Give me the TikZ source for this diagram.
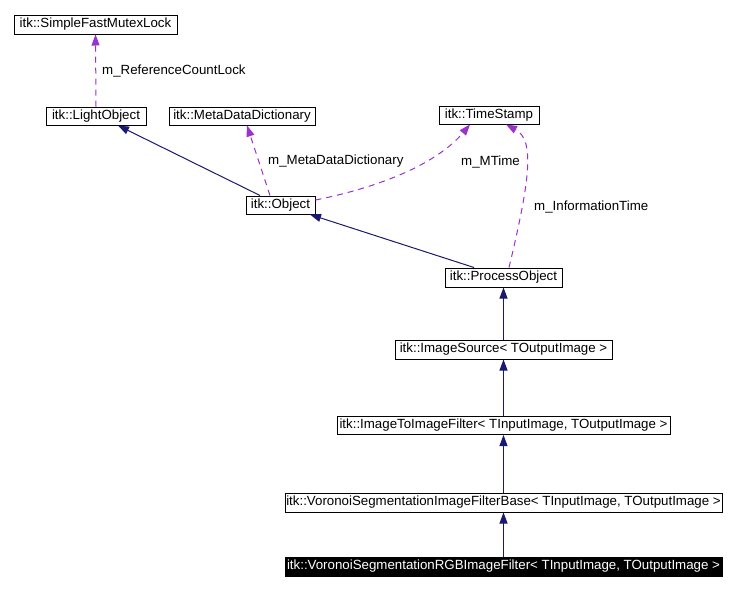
\documentclass[tikz,border=0pt]{standalone}
\usepackage{fontspec}
\setmainfont{Liberation Sans}
\usetikzlibrary{arrows.meta}
\definecolor{navyc}{HTML}{191970}
\definecolor{orchidc}{HTML}{9A32CD}
\begin{document}
\begin{tikzpicture}[x=1pt,y=-1pt,
  cls/.style={draw=black,line width=1pt,rectangle,inner sep=0pt,font=\fontsize{13.3}{15}\selectfont,fill=white},
  hl/.style={cls,fill=black,text=white},
  inh/.style={draw=navyc,line width=1pt,-{Triangle[length=11pt,width=8pt]}},
  use/.style={draw=orchidc,line width=1pt,dash pattern=on 6pt off 5pt,-{Triangle[length=11pt,width=8pt]}},
  lab/.style={font=\fontsize{13.3}{15}\selectfont,anchor=west,inner sep=0pt}]
\useasboundingbox[fill=white] (0,0) rectangle (736,590);
\node[cls,minimum width=163pt,minimum height=19pt] (sfml) at (95.5,24.5) {itk::SimpleFastMutexLock};
\node[cls,minimum width=100pt,minimum height=18pt] (lo) at (96,116) {itk::LightObject};
\node[cls,minimum width=146pt,minimum height=18pt] (mdd) at (242,116) {itk::MetaDataDictionary};
\node[cls,minimum width=69pt,minimum height=18pt] (obj) at (280.5,205) {itk::Object};
\node[cls,minimum width=100pt,minimum height=18pt] (ts) at (489,115) {itk::TimeStamp};
\node[cls,minimum width=117pt,minimum height=19pt] (po) at (503.5,277.5) {itk::ProcessObject};
\node[cls,minimum width=217pt,minimum height=19pt] (is) at (503.5,349.5) {itk::ImageSource< TOutputImage >};
\node[cls,minimum width=333pt,minimum height=18pt] (itif) at (503.5,425.5) {itk::ImageToImageFilter< TInputImage, TOutputImage >};
\node[cls,minimum width=437pt,minimum height=19pt] (vb) at (503.5,502.5) {itk::VoronoiSegmentationImageFilterBase< TInputImage, TOutputImage >};
\node[hl,minimum width=437pt,minimum height=19pt] (rgb) at (503.5,566.5) {itk::VoronoiSegmentationRGBImageFilter< TInputImage, TOutputImage >};

\draw[use] (lo.north) -- (sfml.south);
\node[lab] (l1) at (102,71) {m\_ReferenceCountLock};
\draw[inh] ([xshift=-20.5pt]obj.north) -- ([xshift=22pt]lo.south);
\draw[use] ([xshift=-10.5pt]obj.north) -- ([xshift=5pt]mdd.south);
\node[lab] (l2) at (268,161) {m\_MetaDataDictionary};
\draw[use] ([yshift=5pt]obj.east) .. controls (390,185) and (440,160) .. ([xshift=-19pt]ts.south);
\node[lab] (l3) at (461,162) {m\_MTime};
\draw[inh] ([xshift=-29.5pt]po.north) -- ([xshift=29.5pt]obj.south);
\draw[use] ([xshift=5.5pt]po.north) .. controls (530,180) and (535,140) .. ([xshift=17pt]ts.south);
\node[lab] (l4) at (534,207) {m\_InformationTime};
\draw[inh] (is.north) -- (po.south);
\draw[inh] (itif.north) -- (is.south);
\draw[inh] (vb.north) -- (itif.south);
\draw[inh] (rgb.north) -- (vb.south);
\end{tikzpicture}
\end{document}
